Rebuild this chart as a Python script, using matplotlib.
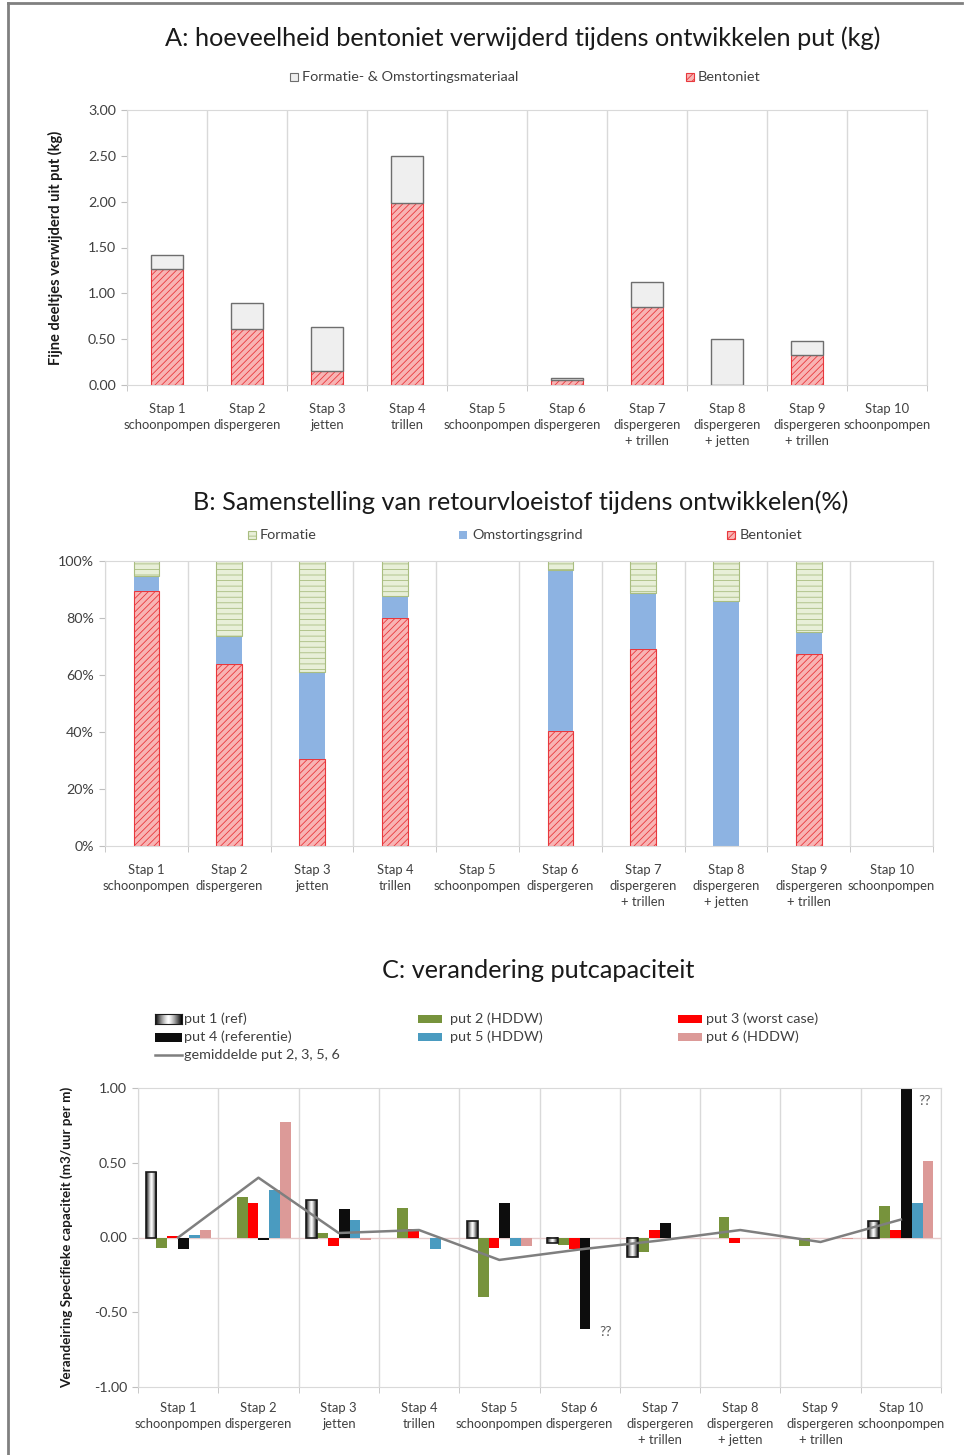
import numpy as np
import matplotlib
matplotlib.use('Agg')
import matplotlib.pyplot as plt
from matplotlib.patches import Rectangle
from matplotlib.lines import Line2D

plt.rcParams['font.family'] = ['Lato', 'DejaVu Sans']
plt.rcParams['hatch.linewidth'] = 0.6

nan = np.nan

stap_labels = ['Stap 1\nschoonpompen', 'Stap 2\ndispergeren', 'Stap 3\njetten',
               'Stap 4\ntrillen', 'Stap 5\nschoonpompen', 'Stap 6\ndispergeren',
               'Stap 7\ndispergeren\n+ trillen', 'Stap 8\ndispergeren\n+ jetten',
               'Stap 9\ndispergeren\n+ trillen', 'Stap 10\nschoonpompen']

# A: kg fine particles removed
bentoniet_a = [1.27, 0.61, 0.15, 1.99, nan, 0.06, 0.85, nan, 0.33, nan]
formatie_a = [0.15, 0.28, 0.48, 0.51, nan, 0.02, 0.27, 0.50, 0.15, nan]

# B: composition (%)
bentoniet_b = [89.5, 64.0, 30.5, 80.0, nan, 40.5, 69.0, nan, 67.5, nan]
omstorting_b = [5.2, 9.7, 30.5, 7.7, nan, 56.5, 19.7, 86.0, 7.5, nan]
formatie_b = [5.3, 26.3, 39.0, 12.3, nan, 3.0, 11.3, 14.0, 25.0, nan]

# C: change in specific capacity per well
put1 = [0.44, nan, 0.25, nan, 0.11, -0.04, -0.13, nan, nan, 0.11]
put2 = [-0.07, 0.27, 0.03, 0.20, -0.40, -0.05, -0.10, 0.14, -0.06, 0.21]
put3 = [0.01, 0.23, -0.06, 0.06, -0.07, -0.08, 0.05, -0.04, nan, 0.05]
put4 = [-0.08, -0.02, 0.19, nan, 0.23, -0.61, 0.10, nan, nan, 1.00]
put5 = [0.02, 0.32, 0.12, -0.08, -0.06, nan, nan, nan, nan, 0.23]
put6 = [0.05, 0.77, -0.02, nan, -0.06, nan, nan, nan, -0.01, 0.51]
gemiddelde = [0.0, 0.40, 0.03, 0.05, -0.15, -0.08, -0.02, 0.05, -0.03, 0.12]

W, H = 966, 1455
fig = plt.figure(figsize=(W / 100, H / 100), dpi=100)

TXT = '#404040'
TICK_FS = 9.4
TITLE_FS = 18.2
LEG_FS = 10.4


def fx(x):
    return x / W


def fy(y):
    return 1 - y / H


def make_axes(x0, y0, x1, y1):
    return fig.add_axes([fx(x0), fy(y1), (x1 - x0) / W, (y1 - y0) / H])


def style_axes(ax):
    ax.set_xlim(-0.5, 9.5)
    ax.set_xticks(np.arange(10))
    ax.set_xticklabels(stap_labels, fontsize=TICK_FS, color=TXT, linespacing=1.4,
                       va='top')
    ax.set_xticks(np.arange(-0.5, 10), minor=True)
    ax.tick_params(axis='x', which='major', length=0, pad=13)
    ax.tick_params(axis='x', which='minor', length=4, color='#bfbfbf')
    ax.grid(True, which='minor', axis='x', color='#d9d9d9', lw=1)
    ax.tick_params(axis='y', length=4, color='#bfbfbf', labelsize=10.3, labelcolor=TXT, pad=4)
    for s in ax.spines.values():
        s.set_color('#d9d9d9')
    ax.set_axisbelow(True)


RED_KW = dict(color='#f8b4b4', edgecolor='#e8383d', hatch='/////', lw=0.8)
GREY_KW = dict(color='#efefef', edgecolor='#6e6e6e', lw=1.0)
FORM_KW = dict(color='#e8efd8', edgecolor='#a9bd80', hatch='---', lw=0.8)
OMST_KW = dict(color='#8db3e2', edgecolor='none')

idx = np.arange(10)

# ---------- A ----------
axA = make_axes(127, 110, 927, 385)
style_axes(axA)
bA = np.nan_to_num(bentoniet_a)
axA.bar(idx, bentoniet_a, 0.41, zorder=2, **RED_KW)
axA.bar(idx, formatie_a, 0.41, bottom=bA, zorder=2, **GREY_KW)
axA.set_ylim(0, 3)
axA.set_yticks(np.arange(0, 3.01, 0.5))
axA.set_yticklabels([f'{v:.2f}' for v in np.arange(0, 3.01, 0.5)])
axA.set_ylabel('Fijne deeltjes verwijderd uit put (kg)', fontsize=10.5, fontweight='bold',
               color='#1a1a1a')
axA.yaxis.set_label_coords(-0.08, 0.5)

fig.text(fx(523), fy(38), 'A: hoeveelheid bentoniet verwijderd tijdens ontwikkelen put (kg)',
         ha='center', va='center', fontsize=TITLE_FS, color='#1a1a1a')

# ---------- B ----------
axB = make_axes(105, 561, 933, 846)
style_axes(axB)
b1 = np.nan_to_num(bentoniet_b)
b2 = b1 + np.nan_to_num(omstorting_b)
axB.bar(idx, bentoniet_b, 0.31, zorder=2, **RED_KW)
axB.bar(idx, omstorting_b, 0.31, bottom=b1, zorder=2, **OMST_KW)
axB.bar(idx, formatie_b, 0.31, bottom=b2, zorder=2, **FORM_KW)
axB.set_ylim(0, 100)
axB.set_yticks(np.arange(0, 101, 20))
axB.set_yticklabels([f'{v}%' for v in range(0, 101, 20)])

fig.text(fx(521), fy(502), 'B: Samenstelling van retourvloeistof tijdens ontwikkelen(%)',
         ha='center', va='center', fontsize=TITLE_FS, color='#1a1a1a')

# ---------- C ----------
axC = make_axes(138, 1088, 941, 1387)
style_axes(axC)
axC.axhline(0, color='#e6cccc', lw=1, zorder=1)
w = 0.135
grad = (1 - np.abs(np.linspace(-1, 1, 64)) ** 1.3).reshape(1, -1)
series = [(put2, '#77933c'), (put3, '#ff0000'), (put4, '#0d0d0d'),
          (put5, '#4a9bc0'), (put6, '#dc9a98')]
for k, (vals, col) in enumerate(series, start=1):
    axC.bar(idx + (k - 2.5) * w, vals, w, color=col, zorder=2)
# put 1 with a shaded gradient
for i, v in enumerate(put1):
    if np.isnan(v):
        continue
    x0 = i - 2.5 * w - w / 2
    axC.imshow(grad, extent=(x0, x0 + w, min(0, v), max(0, v)), cmap='gray', vmin=0, vmax=1,
               aspect='auto', zorder=2, interpolation='bilinear')
axC.bar(idx - 2.5 * w, put1, w, facecolor='none', edgecolor='#1a1a1a', lw=1.2, zorder=3)
axC.plot(idx, gemiddelde, color='#7f7f7f', lw=1.8, zorder=4)
axC.set_xlim(-0.5, 9.5)
axC.set_ylim(-1, 1)
axC.set_yticks(np.arange(-1, 1.01, 0.5))
axC.set_yticklabels([f'{v:.2f}' for v in np.arange(-1, 1.01, 0.5)])
axC.tick_params(axis='x', which='major', pad=11)
axC.set_ylabel('Verandeiring Specifieke capaciteit (m3/uur per m)', fontsize=9.7,
               fontweight='bold', color='#1a1a1a')
axC.yaxis.set_label_coords(-0.081, 0.5)
axC.text(5.25, -0.63, '??', fontsize=10, color='#595959', va='center', ha='left')
axC.text(9.22, 0.91, '??', fontsize=10, color='#595959', va='center', ha='left')

fig.text(fx(538), fy(970), 'C: verandering putcapaciteit',
         ha='center', va='center', fontsize=TITLE_FS, color='#1a1a1a')


# ---------- legends ----------
def swatch(x, y, sw, sh, **kw):
    fig.add_artist(Rectangle((fx(x), fy(y + sh / 2)), sw / W, sh / H,
                             transform=fig.transFigure, **kw))


def label(x, y, s):
    fig.text(fx(x), fy(y), s, ha='left', va='center', fontsize=LEG_FS, color=TXT)


swatch(290, 77, 8, 8, facecolor='#efefef', edgecolor='#6e6e6e', lw=0.8)
label(302, 77, 'Formatie- & Omstortingsmateriaal')
swatch(686, 77, 8, 8, facecolor='#f8b4b4', edgecolor='#e8383d', hatch='/////', lw=0.8)
label(698, 77, 'Bentoniet')

swatch(248, 535, 8, 8, facecolor='#e8efd8', edgecolor='#a9bd80', hatch='---', lw=0.8)
label(260, 535, 'Formatie')
swatch(459, 535, 8, 8, facecolor='#8db3e2', edgecolor='none')
label(472, 535, 'Omstortingsgrind')
swatch(727, 535, 8, 8, facecolor='#f8b4b4', edgecolor='#e8383d', hatch='/////', lw=0.8)
label(740, 535, 'Bentoniet')

# put 1 swatch with gradient
lax = fig.add_axes([fx(155), fy(1024), 27 / W, 10 / H])
lax.imshow(grad, cmap='gray', vmin=0, vmax=1, aspect='auto', interpolation='bilinear')
lax.set_xticks([])
lax.set_yticks([])
for s in lax.spines.values():
    s.set_color('#1a1a1a')
label(184, 1019, 'put 1 (ref)')
swatch(155, 1037, 27, 9, facecolor='#0d0d0d', edgecolor='none')
label(184, 1037, 'put 4 (referentie)')
fig.add_artist(Line2D([fx(155), fx(182)], [fy(1055), fy(1055)], color='#7f7f7f', lw=1.8))
label(184, 1055, 'gemiddelde put 2, 3, 5, 6')
swatch(418, 1019, 24, 8, facecolor='#77933c', edgecolor='none')
label(450, 1019, 'put 2 (HDDW)')
swatch(418, 1037, 24, 8, facecolor='#4a9bc0', edgecolor='none')
label(450, 1037, 'put 5 (HDDW)')
swatch(678, 1019, 24, 8, facecolor='#ff0000', edgecolor='none')
label(706, 1019, 'put 3 (worst case)')
swatch(678, 1037, 24, 8, facecolor='#dc9a98', edgecolor='none')
label(706, 1037, 'put 6 (HDDW)')

# outer frame
fig.add_artist(Line2D([fx(8), fx(8)], [fy(3), 0], color='#808080', lw=2))
fig.add_artist(Line2D([fx(8), fx(962)], [fy(3), fy(3)], color='#808080', lw=2))

fig.savefig('out.png', dpi=100)
